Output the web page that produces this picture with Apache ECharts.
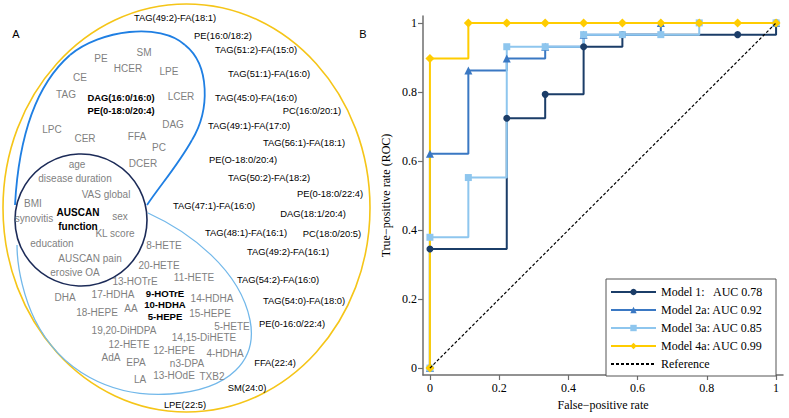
<!DOCTYPE html>
<html><head><meta charset="utf-8">
<script src="https://cdn.jsdelivr.net/npm/echarts@6/dist/echarts.min.js"></script>
<style>html,body{margin:0;padding:0;background:#fff}#c{width:789px;height:418px}</style>
</head><body><div id="c"></div>
<script>
// ---------------- ROC data (panel B) ----------------
const modelNames = ['Model 1:   AUC 0.78', 'Model 2a: AUC 0.92', 'Model 3a: AUC 0.85', 'Model 4a: AUC 0.99'];
const referenceName = 'Reference';
const model1Fpr = [0, 0, 0.222, 0.333, 0.444, 0.556, 0.889, 1];
const model1Tpr = [0, 0.345, 0.724, 0.793, 0.931, 0.966, 0.966, 1];
const model2Fpr = [0, 0, 0.111, 0.222, 0.333, 0.444, 0.667, 1];
const model2Tpr = [0, 0.621, 0.862, 0.897, 0.931, 0.966, 1, 1];
const model3Fpr = [0, 0, 0.111, 0.222, 0.333, 0.444, 0.556, 0.667, 0.778, 1];
const model3Tpr = [0, 0.379, 0.552, 0.931, 0.931, 0.966, 0.966, 0.966, 1, 1];
const model4Fpr = [0, 0, 0.111, 0.222, 0.333, 0.444, 0.556, 0.667, 0.778, 0.889, 1];
const model4Tpr = [0, 0.897, 1, 1, 1, 1, 1, 1, 1, 1, 1];
const referenceFpr = [0, 1];
const referenceTpr = [0, 1];
const xTicks = [0, 0.2, 0.4, 0.6, 0.8, 1];
const yTicks = [0, 0.2, 0.4, 0.6, 0.8, 1];

// ---------------- Diagram labels (panel A) ----------------
const clinicalVars = ['age', 'disease duration', 'VAS global', 'BMI', 'synovitis', 'sex', 'KL score', 'education', 'AUSCAN pain', 'erosive OA'];
const selectedClinical = ['AUSCAN', 'function'];
const lipidClasses = ['PE', 'SM', 'HCER', 'LPE', 'CE', 'TAG', 'LCER', 'LPC', 'CER', 'FFA', 'DAG', 'PC', 'DCER'];
const selectedLipidsInner = ['DAG(16:0/16:0)', 'PE(0-18:0/20:4)'];
const oxylipins = ['8-HETE', '20-HETE', '13-HOTrE', '11-HETE', 'DHA', '17-HDHA', 'AA', '18-HEPE', '14-HDHA', '15-HEPE', '5-HETE', '19,20-DiHDPA', '14,15-DiHETE', '12-HETE', '12-HEPE', '4-HDHA', 'AdA', 'EPA', 'n3-DPA', 'LA', '13-HOdE', 'TXB2'];
const selectedOxylipins = ['9-HOTrE', '10-HDHA', '5-HEPE'];
const outerLipids = ['TAG(49:2)-FA(18:1)', 'PE(16:0/18:2)', 'TAG(51:2)-FA(15:0)', 'TAG(51:1)-FA(16:0)', 'TAG(45:0)-FA(16:0)', 'PC(16:0/20:1)', 'TAG(49:1)-FA(17:0)', 'TAG(56:1)-FA(18:1)', 'PE(O-18:0/20:4)', 'TAG(50:2)-FA(18:2)', 'PE(0-18:0/22:4)', 'TAG(47:1)-FA(16:0)', 'DAG(18:1/20:4)', 'TAG(48:1)-FA(16:1)', 'PC(18:0/20:5)', 'TAG(49:2)-FA(16:1)', 'TAG(54:2)-FA(16:0)', 'TAG(54:0)-FA(18:0)', 'PE(0-16:0/22:4)', 'FFA(22:4)', 'SM(24:0)', 'LPE(22:5)'];

// layout (pixel positions of diagram labels, kept apart from the values)
const labelPos = {
  'age': [77, 164], 'disease duration': [75, 178], 'VAS global': [106, 194], 'BMI': [33, 203],
  'synovitis': [34, 218], 'sex': [120, 216], 'KL score': [115, 233], 'education': [52, 243],
  'AUSCAN pain': [90, 258], 'erosive OA': [75, 272],
  'AUSCAN': [78, 212], 'function': [78, 226],
  'PE': [101, 58], 'SM': [144, 52], 'HCER': [128, 68], 'LPE': [169, 71], 'CE': [80, 77], 'TAG': [66, 94],
  'LCER': [181, 96], 'LPC': [52, 129], 'CER': [85, 138], 'FFA': [137, 136], 'DAG': [173, 124], 'PC': [159, 147], 'DCER': [143, 163],
  'DAG(16:0/16:0)': [121, 97], 'PE(0-18:0/20:4)': [121, 110],
  '8-HETE': [164, 245], '20-HETE': [159, 265], '13-HOTrE': [135, 281], '11-HETE': [194, 277], 'DHA': [65, 297],
  '17-HDHA': [113, 294], 'AA': [131, 308], '18-HEPE': [97, 312], '14-HDHA': [212, 298], '15-HEPE': [210, 313],
  '5-HETE': [232, 326], '19,20-DiHDPA': [124, 330], '14,15-DiHETE': [204, 337], '12-HETE': [129, 344],
  '12-HEPE': [174, 350], '4-HDHA': [225, 353], 'AdA': [111, 357], 'EPA': [136, 362], 'n3-DPA': [187, 363],
  'LA': [140, 379], '13-HOdE': [174, 375], 'TXB2': [212, 376],
  '9-HOTrE': [165, 293], '10-HDHA': [165, 304], '5-HEPE': [165, 316],
  'TAG(49:2)-FA(18:1)': [175, 17], 'PE(16:0/18:2)': [223, 35], 'TAG(51:2)-FA(15:0)': [256, 49],
  'TAG(51:1)-FA(16:0)': [269, 73], 'TAG(45:0)-FA(16:0)': [256, 97], 'PC(16:0/20:1)': [312, 110],
  'TAG(49:1)-FA(17:0)': [249, 125], 'TAG(56:1)-FA(18:1)': [304, 142], 'PE(O-18:0/20:4)': [243, 159],
  'TAG(50:2)-FA(18:2)': [269, 177], 'PE(0-18:0/22:4)': [330, 193], 'TAG(47:1)-FA(16:0)': [214, 205],
  'DAG(18:1/20:4)': [313, 213], 'TAG(48:1)-FA(16:1)': [246, 232], 'PC(18:0/20:5)': [332, 233],
  'TAG(49:2)-FA(16:1)': [288, 251], 'TAG(54:2)-FA(16:0)': [278, 279], 'TAG(54:0)-FA(18:0)': [304, 300],
  'PE(0-16:0/22:4)': [292, 323], 'FFA(22:4)': [275, 362], 'SM(24:0)': [247, 387], 'LPE(22:5)': [185, 404]
};

const SANS = '"Liberation Sans", Arial, sans-serif';
const SERIF = '"Liberation Serif", "Times New Roman", serif';
const GREY = '#7f7f7f';

function zip(a, b) { return a.map((v, i) => [v, b[i]]); }
function textEl(name, color, size, weight) {
  const p = labelPos[name];
  return { type: 'text', x: p[0], y: p[1], z: 10, style: { text: name, fill: color, font: (weight || 'normal') + ' ' + size + 'px ' + SANS, align: 'center', verticalAlign: 'middle' } };
}
function bez(p, color, w) {
  return { type: 'bezierCurve', shape: { x1: p[0], y1: p[1], cpx1: p[2], cpy1: p[3], cpx2: p[4], cpy2: p[5], x2: p[6], y2: p[7] }, style: { fill: null, stroke: color, lineWidth: w } };
}

const blueOutline = [
  [15, 205, 18, 150, 30, 90, 70, 55],
  [70, 55, 100, 30, 160, 22, 185, 45],
  [185, 45, 210, 65, 210, 110, 192, 140],
  [192, 140, 178, 165, 162, 183, 147, 205]
];
const lightBlueOutline = [
  [148, 213, 190, 232, 240, 270, 250, 320],
  [250, 320, 258, 360, 230, 390, 170, 394],
  [170, 394, 110, 398, 60, 370, 35, 320],
  [35, 320, 25, 300, 17, 270, 17, 245]
];

const graphics = [
  { type: 'ellipse', shape: { cx: 186.5, cy: 208, rx: 183.5, ry: 204 }, style: { fill: null, stroke: '#f5c518', lineWidth: 1.6 } },
  { type: 'circle', shape: { cx: 81, cy: 220, r: 66 }, style: { fill: null, stroke: '#1c2b58', lineWidth: 1.6 } },
  { type: 'text', x: 16, y: 34, style: { text: 'A', fill: '#000', font: '11px ' + SANS, align: 'center', verticalAlign: 'middle' } },
  { type: 'text', x: 363, y: 34, style: { text: 'B', fill: '#000', font: '11px ' + SANS, align: 'center', verticalAlign: 'middle' } }
];
blueOutline.forEach(p => graphics.push(bez(p, '#1f7fe3', 1.8)));
lightBlueOutline.forEach(p => graphics.push(bez(p, '#72b8ea', 1.3)));
clinicalVars.forEach(n => graphics.push(textEl(n, GREY, 10)));
selectedClinical.forEach(n => graphics.push(textEl(n, '#000', 10, 'bold')));
lipidClasses.forEach(n => graphics.push(textEl(n, GREY, 10)));
selectedLipidsInner.forEach(n => graphics.push(textEl(n, '#000', 9.4, 'bold')));
oxylipins.forEach(n => graphics.push(textEl(n, GREY, 10)));
selectedOxylipins.forEach(n => graphics.push(textEl(n, '#000', 9.6, 'bold')));
outerLipids.forEach(n => graphics.push(textEl(n, '#000', 9.4)));

const fmt = v => (v === 0 ? '0' : v === 1 ? '1' : v.toFixed(1));
const axisCommon = {
  type: 'value', min: -0.02, max: 1.02,
  splitLine: { show: false },
  axisLine: { show: true, onZero: false, lineStyle: { color: '#6e6e6e', width: 1.5 } },
  nameLocation: 'middle',
  nameTextStyle: { fontFamily: SERIF, fontSize: 12, color: '#000' }
};

function rocSeries(name, fpr, tpr, color, symbol, size) {
  return {
    name, type: 'line', step: 'end', data: zip(fpr, tpr),
    symbol, symbolSize: size, showSymbol: true, showAllSymbol: true,
    lineStyle: { color, width: 2 }, itemStyle: { color },
    animation: false
  };
}

const chart = echarts.init(document.getElementById('c'), null, { renderer: 'svg' });
chart.setOption({
  animation: false,
  backgroundColor: '#fff',
  grid: { left: 423, right: 6, top: 16, bottom: 43, containLabel: false },
  xAxis: Object.assign({}, axisCommon, {
    name: 'False−positive rate', nameGap: 23,
    axisTick: { show: true, customValues: xTicks, length: 5, lineStyle: { color: '#6e6e6e', width: 1.2 } },
    axisLabel: { customValues: xTicks, formatter: fmt, fontFamily: SERIF, fontSize: 12, color: '#000', margin: 7 }
  }),
  yAxis: Object.assign({}, axisCommon, {
    name: 'True−positive rate (ROC)', nameGap: 31,
    axisTick: { show: true, customValues: yTicks, length: 5, lineStyle: { color: '#6e6e6e', width: 1.2 } },
    axisLabel: { customValues: yTicks, formatter: fmt, fontFamily: SERIF, fontSize: 12, color: '#000', margin: 6 }
  }),
  legend: {
    orient: 'vertical', left: 606, top: 279,
    itemWidth: 45, itemHeight: 8, itemGap: 4,
    padding: [6, 13, 5, 4],
    borderColor: '#555', borderWidth: 1, backgroundColor: '#fff',
    textStyle: { fontFamily: SERIF, fontSize: 12, color: '#000', lineHeight: 14 },
    data: modelNames.concat([{ name: referenceName, itemStyle: { color: 'rgba(0,0,0,0)', opacity: 0 } }])
  },
  graphic: graphics,
  series: [
    rocSeries(modelNames[0], model1Fpr, model1Tpr, '#1b3d68', 'circle', 7),
    rocSeries(modelNames[1], model2Fpr, model2Tpr, '#3a78c3', 'triangle', 8),
    rocSeries(modelNames[2], model3Fpr, model3Tpr, '#8ec6ee', 'rect', 7),
    rocSeries(modelNames[3], model4Fpr, model4Tpr, '#ffcc00', 'diamond', 9),
    {
      name: referenceName, type: 'line', data: zip(referenceFpr, referenceTpr), symbol: 'none',
      lineStyle: { color: '#000', width: 1.2, type: [3, 2] }, itemStyle: { color: '#000' }, z: 5
    }
  ]
});
</script></body></html>
